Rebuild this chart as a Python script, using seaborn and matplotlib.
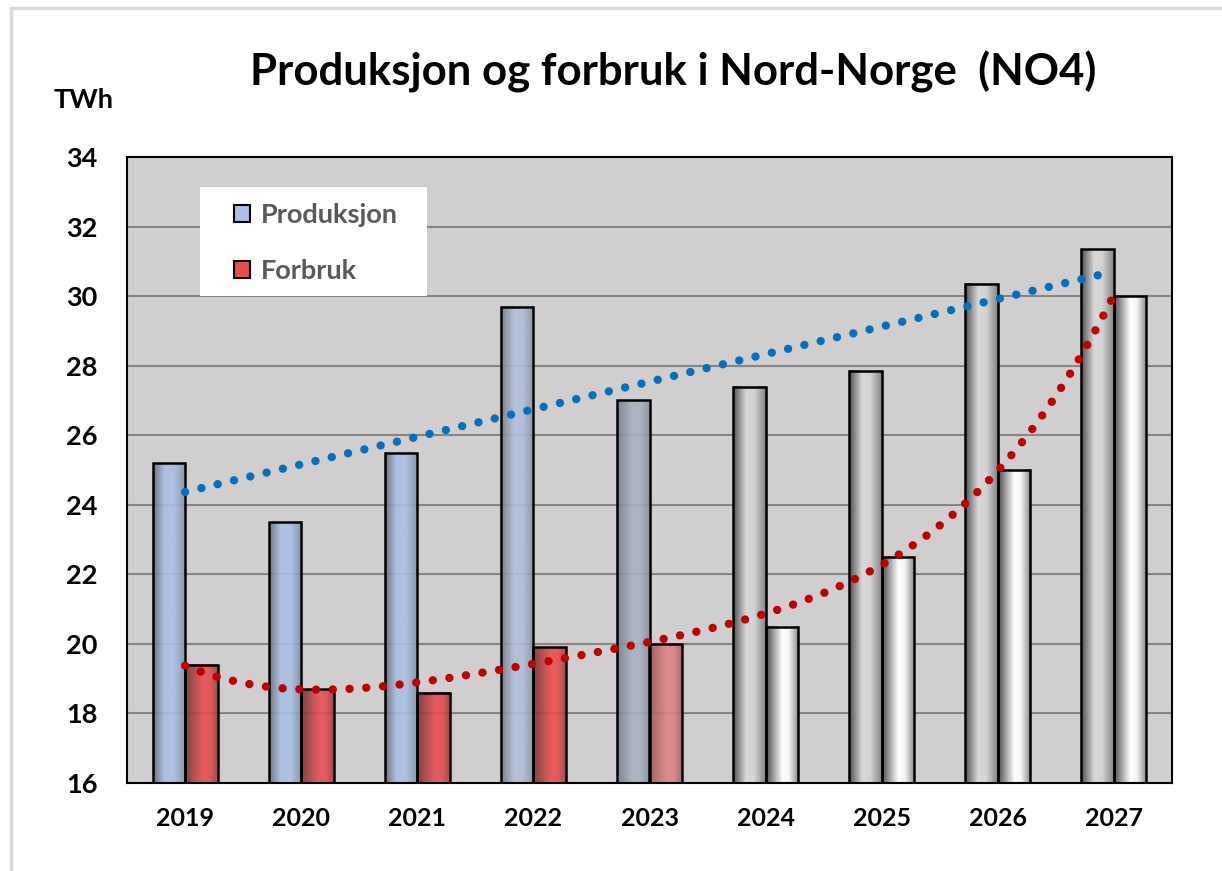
import numpy as np
import pandas as pd
import matplotlib
matplotlib.use('Agg')
import matplotlib.pyplot as plt
import seaborn as sns
from matplotlib.colors import LinearSegmentedColormap
from matplotlib.patches import Patch, Rectangle

# data (TWh)
years = ['2019', '2020', '2021', '2022', '2023', '2024', '2025', '2026', '2027']
produksjon = [25.2, 23.5, 25.5, 29.7, 27.0, 27.4, 27.85, 30.35, 31.35]
forbruk = [19.4, 18.7, 18.6, 19.9, 20.0, 20.5, 22.5, 25.0, 30.0]

# fill style per bar: measured, uncertain 2023, forecast
prod_style = ['blue', 'blue', 'blue', 'bluegray', 'paleblue', 'gray', 'gray', 'gray', 'gray']
forb_style = ['red', 'red', 'red', 'red', 'palered', 'white', 'white', 'white', 'white']

sns.set_style('white')
plt.rcParams['font.family'] = ['Lato', 'DejaVu Sans']
plt.rcParams['font.weight'] = 'bold'
plt.rcParams['text.color'] = 'black'
plt.rcParams['xtick.color'] = 'black'
plt.rcParams['ytick.color'] = 'black'

df = pd.DataFrame({
    'år': years * 2,
    'TWh': produksjon + forbruk,
    'serie': ['Produksjon'] * len(years) + ['Forbruk'] * len(years),
})

def cmap(name, stops):
    return LinearSegmentedColormap.from_list(name, stops)

cmaps = {
    'blue': cmap('blue', [(0, '#666c77'), (0.35, '#a9bfe6'), (0.65, '#a9bfe6'), (1, '#838fa4')]),
    'bluegray': cmap('bluegray', [(0, '#737b88'), (0.4, '#b0bfd8'), (0.65, '#b0bfd8'), (1, '#8893a4')]),
    'paleblue': cmap('paleblue', [(0, '#777d88'), (0.45, '#a8b1c2'), (0.7, '#a8b1c2'), (1, '#878e9b')]),
    'red': cmap('red', [(0, '#723434'), (0.55, '#ea4f4f'), (0.75, '#e54c4c'), (1, '#9e4040')]),
    'palered': cmap('palered', [(0, '#995656'), (0.55, '#e08686'), (0.75, '#dc8282'), (1, '#a86262')]),
    'gray': cmap('gray', [(0, '#4e4e4e'), (0.4, '#d8d8d8'), (0.65, '#d2d2d2'), (1, '#858585')]),
    'white': cmap('white', [(0, '#4e4e4e'), (0.5, '#ffffff'), (0.7, '#f4f4f4'), (1, '#858585')]),
}
alphas = {'blue': 0.9, 'bluegray': 0.9, 'paleblue': 0.9, 'red': 0.9, 'palered': 0.9,
          'gray': 1.0, 'white': 1.0}

fig = plt.figure(figsize=(12.22, 8.71), dpi=100)
ax = fig.add_axes([127 / 1222, 1 - 783 / 871, 1045 / 1222, 626 / 871])
ax.set_facecolor('#d0cece')

sns.barplot(data=df, x='år', y='TWh', hue='serie', width=0.56, gap=0,
            legend=False, saturation=1, edgecolor='black', linewidth=1.8, ax=ax)

ax.set_xlim(-0.5, len(years) - 0.5)
ax.set_ylim(16, 34)

# horizontal gradient inside every bar
grad = np.linspace(0, 1, 256).reshape(1, -1)
for container, styles in zip(ax.containers, [prod_style, forb_style]):
    for bar, st in zip(container, styles):
        x0 = bar.get_x()
        w, h = bar.get_width(), bar.get_height()
        im = ax.imshow(grad, cmap=cmaps[st], extent=[x0, x0 + w, 16, h],
                       aspect='auto', interpolation='bilinear', alpha=alphas[st], zorder=2)
        im.set_clip_path(bar)
        im.set_clip_box(ax.bbox)
        bar.set_facecolor('none')
        bar.set_zorder(3)

# trend lines like the Excel ones (linear / polynomial)
xs = np.arange(len(years))
xx = np.linspace(0, len(years) - 1, 400)
p_prod = np.polyfit(xs, produksjon, 1)
p_forb = np.polyfit(xs, forbruk, 4)
ax.plot(xx, np.polyval(p_prod, xx), color='#0070c0', lw=6, ls=(0, (0.01, 2.0)),
        dash_capstyle='round', zorder=4)
ax.plot(xx, np.polyval(p_forb, xx), color='#c00000', lw=6, ls=(0, (0.01, 2.0)),
        dash_capstyle='round', zorder=4)

ax.set_xlim(-0.5, len(years) - 0.5)
ax.set_ylim(16, 34)
ax.set_yticks(np.arange(16, 35, 2))
ax.set_xticks(xs, years)
ax.set_xticks(np.arange(-0.5, len(years), 1), minor=True)
ax.yaxis.grid(True, color='#858585', lw=1.5)
ax.set_axisbelow(True)
ax.set_xlabel('')
ax.set_ylabel('')
ax.tick_params(axis='x', which='major', length=0, pad=17, labelsize=18)
ax.tick_params(axis='x', which='minor', length=7, width=1.5, direction='out', color='black')
ax.tick_params(axis='y', length=0, pad=21, labelsize=19.5)
for s in ax.spines.values():
    s.set_visible(True)
    s.set_color('black')
    s.set_linewidth(1.5)

# white legend box, then the legend entries on top of it
ax.add_patch(Rectangle((0.0699, 0.778), 0.2172, 0.1741, transform=ax.transAxes,
                       facecolor='white', edgecolor='none', zorder=5))
handles = [Patch(facecolor='#a9bfe6', edgecolor='black', lw=1.5, label='Produksjon'),
           Patch(facecolor='#e54c4c', edgecolor='black', lw=1.5, label='Forbruk')]
leg = ax.legend(handles=handles, loc='upper left', bbox_to_anchor=(0.1024, 0.9265),
                borderaxespad=0, borderpad=0, fontsize=19.5, frameon=False,
                labelspacing=1.17, handlelength=0.6, handleheight=0.6,
                handletextpad=0.4, labelcolor='#595959')
leg.set_zorder(6)

fig.text(673 / 1222, 1 - 72 / 871, 'Produksjon og forbruk i Nord-Norge  (NO4)',
         ha='center', va='center', fontsize=31.5, fontweight='bold', color='black')
fig.text(84 / 1222, 1 - 100 / 871, 'TWh', ha='center', va='center',
         fontsize=19.5, fontweight='bold', color='black')

# light frame around the chart area (left and top edges visible)
fig.add_artist(plt.Line2D([11 / 1222, 11 / 1222], [0, 1 - 8 / 871],
                          transform=fig.transFigure, color='#dadada', lw=2.5))
fig.add_artist(plt.Line2D([11 / 1222, 1], [1 - 8 / 871, 1 - 8 / 871],
                          transform=fig.transFigure, color='#dadada', lw=2.5))

fig.savefig('out.png', dpi=100)
